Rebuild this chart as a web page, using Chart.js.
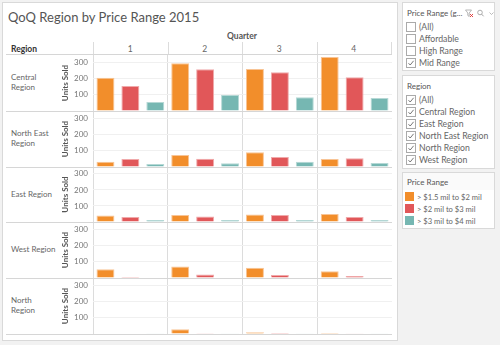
<!DOCTYPE html>
<html>
<head>
<meta charset="utf-8">
<script src="https://cdn.jsdelivr.net/npm/chart.js@4"></script>
<style>
  html, body { margin: 0; padding: 0; }
  body { width: 500px; height: 345px; background: #f2f2f2; position: relative; overflow: hidden;
         font-family: Lato, "Noto Sans", sans-serif; color: #555; }
  .abs { position: absolute; white-space: nowrap; }
  #sheet { position: absolute; left: 2px; top: 2px; width: 394px; height: 337px; background: #fff;
           border: 1px solid #d9d9d9; }
  .hline { position: absolute; height: 1px; background: #d6d6d6; }
  .vline { position: absolute; width: 1px; background: #dcdcdc; }
  .rowlabel { position: absolute; left: 11px; font-size: 8px; line-height: 10px; color: #666; }
  .card { position: absolute; left: 402px; width: 93px; background: #fff; border: 1px solid #d9d9d9; box-sizing: border-box; }
  .card .head { position: absolute; left: 4px; font-size: 8px; color: #555; white-space: nowrap; }
  .item { position: absolute; left: 3px; height: 10px; font-size: 8.7px; color: #666; white-space: nowrap; line-height: 10px; }
  .box { position: absolute; left: 0; top: 0; width: 8px; height: 8px; border: 1px solid #aaa; background: #fff; }
  .item span { position: absolute; left: 13px; top: 0; }
  .sw { position: absolute; left: 0; top: 0; width: 9px; height: 9px; }
  canvas { position: absolute; }
</style>
</head>
<body>
<div id="sheet"></div>
<div class="abs" style="left:8px; top:7px; font-size:13px; color:#555; line-height:20px;">QoQ Region by Price Range 2015</div>
<div class="abs" style="left:0; width:484px; text-align:center; top:31px; font-size:8.5px; font-weight:700; color:#555; line-height:10px;">Quarter</div>
<div class="abs" style="left:11px; top:44px; font-size:8.5px; font-weight:700; color:#333; line-height:10px;">Region</div>
<div id="layer"></div>

<script>
// Quarters across the top, regions down the side, one bar per price range
const quarters = ['1', '2', '3', '4'];
const regions = ['Central Region', 'North East Region', 'East Region', 'West Region', 'North Region'];
const regionLines = [['Central', 'Region'], ['North East', 'Region'], ['East Region'], ['West Region'], ['North', 'Region']];
const priceRanges = ['> $1.5 mil to $2 mil', '> $2 mil to $3 mil', '> $3 mil to $4 mil'];
const priceColors = ['#f28e2b', '#e15759', '#76b7b2'];
const priceEdges = ['#f8c495', '#f0a9aa', '#b5d8d5'];
const yTicks = [100, 200, 300];

// Units sold per quarter, one array per price range
const centralUnits   = [[204, 292, 257, 331], [153, 255, 237, 206], [55, 98, 84, 80]];
const northEastUnits = [[32, 73, 90, 49], [49, 51, 61, 53], [18, 23, 32, 24]];
const eastUnits      = [[40, 44, 46, 50], [31, 34, 43, 31], [13, 12, 12, 13]];
const westUnits      = [[53, 70, 63, 41], [6, 22, 19, 13], [3, 3, 3, 0]];
const northUnits     = [[3, 29, 10, 6], [3, 5, 6, 4], [2, 2, 2, 2]];
const unitsByRegion = [centralUnits, northEastUnits, eastUnits, westUnits, northUnits];

const filterOptions = ['(All)', 'Affordable', 'High Range', 'Mid Range'];
const filterChecked = [false, false, false, true];
const regionOptions = ['(All)', 'Central Region', 'East Region', 'North East Region', 'North Region', 'West Region'];

// Layout of the crosstab
const rowTops = [55, 111, 167, 222, 278, 334];
const plotLeft = 93, plotRight = 391;
const axisLeft = 56;

const layer = document.getElementById('layer');
function el(cls, css, html) {
  const d = document.createElement('div');
  d.className = cls;
  d.style.cssText = css;
  if (html !== undefined) d.innerHTML = html;
  layer.appendChild(d);
  return d;
}

// Column headers and header separators
const colW = (plotRight - plotLeft) / quarters.length;
quarters.forEach((q, i) => {
  el('abs', `left:${plotLeft + colW * i}px; width:${colW}px; top:44px; text-align:center; font-size:8.5px; color:#666; line-height:10px;`, q);
});
for (let i = 0; i <= quarters.length; i++) {
  el('vline', `left:${Math.round(plotLeft + colW * i)}px; top:42px; height:13px;`);
}
el('hline', `left:6px; width:${plotRight - 5}px; top:54px;`);

// Row labels and row separators
regions.forEach((r, i) => {
  const mid = (rowTops[i] + rowTops[i + 1]) / 2;
  const lines = regionLines[i];
  el('rowlabel', `top:${mid - lines.length * 5 - 1}px;`, lines.join('<br>'));
  el('hline', `left:6px; width:${plotRight - 5}px; top:${rowTops[i + 1]}px; z-index:2;`);
});

// One bar chart per region row
const checkSvg = '<svg width="8" height="8" viewBox="0 0 8 8" style="position:absolute;left:0;top:0"><polyline points="1.5,4.2 3.2,6 6.6,1.8" fill="none" stroke="#555" stroke-width="0.8"/></svg>';

regions.forEach((r, i) => {
  const cv = document.createElement('canvas');
  const h = rowTops[i + 1] - rowTops[i];
  cv.width = plotRight + 1 - axisLeft;
  cv.height = h;
  cv.style.left = axisLeft + 'px';
  cv.style.top = rowTops[i] + 'px';
  cv.style.width = cv.width + 'px';
  cv.style.height = h + 'px';
  layer.appendChild(cv);

  new Chart(cv, {
    type: 'bar',
    data: {
      labels: quarters,
      datasets: priceRanges.map((p, k) => ({
        label: p,
        data: unitsByRegion[i][k],
        backgroundColor: priceColors[k],
        borderColor: priceEdges[k],
        borderWidth: 1,
        categoryPercentage: 1,
        barPercentage: 0.72
      }))
    },
    options: {
      responsive: false,
      animation: false,
      events: [],
      devicePixelRatio: 1,
      layout: { autoPadding: false, padding: 0 },
      plugins: { legend: { display: false }, tooltip: { enabled: false } },
      scales: {
        x: {
          grid: { offset: true, drawTicks: false, color: '#dcdcdc' },
          ticks: { display: false },
          border: { display: false },
          afterFit(s) { s.height = 0; s.paddingLeft = 0; s.paddingRight = 0; }
        },
        y: {
          min: 0, max: 343,
          afterBuildTicks(s) { s.ticks = [0].concat(yTicks).map(v => ({ value: v })); },
          ticks: {
            padding: 5,
            color: '#777',
            font: { family: 'Lato', size: 8 },
            callback: v => (v === 0 ? '' : v)
          },
          grid: { drawTicks: false, color: ctx => (ctx.tick && ctx.tick.value === 0 ? 'rgba(0,0,0,0)' : '#f0f0f0') },
          border: { display: false },
          title: {
            display: true, text: 'Units Sold', color: '#555',
            font: { family: 'Lato', size: 8, weight: 'bold' },
            padding: { top: 5, bottom: 0 }
          },
          afterFit(s) { s.width = plotLeft - axisLeft; s.paddingTop = 0; s.paddingBottom = 0; }
        }
      }
    }
  });
});

// Filter card: price range
const c1 = el('card', 'top:2px; height:69px;');
c1.innerHTML = '<div class="head" style="top:5px;">Price Range (g...</div>' +
  '<svg width="30" height="9" viewBox="0 0 30 9" style="position:absolute; left:62px; top:6px;">' +
  '<path d="M0.5,1 L6.5,1 L4.2,4 L4.2,7.5 L2.8,6.5 L2.8,4 Z" fill="none" stroke="#999" stroke-width="0.7"/>' +
  '<path d="M5,5 L8,8 M8,5 L5,8" stroke="#d33" stroke-width="0.9"/>' +
  '<circle cx="15" cy="3.5" r="2.3" fill="none" stroke="#999" stroke-width="0.8"/>' +
  '<path d="M16.7,5.2 L18.6,7.3" stroke="#999" stroke-width="0.9"/>' +
  '<path d="M24.5,3.5 L26.5,5.5 L28.5,3.5" fill="none" stroke="#aaa" stroke-width="0.8"/></svg>';
filterOptions.forEach((o, i) => {
  const it = document.createElement('div');
  it.className = 'item';
  it.style.top = (19 + i * 12) + 'px';
  it.innerHTML = '<div class="box">' + (filterChecked[i] ? checkSvg : '') + '</div><span>' + o + '</span>';
  c1.appendChild(it);
});

// Filter card: region
const c2 = el('card', 'top:75px; height:94px;');
c2.innerHTML = '<div class="head" style="top:5px;">Region</div>';
regionOptions.forEach((o, i) => {
  const it = document.createElement('div');
  it.className = 'item';
  it.style.top = (19 + i * 12) + 'px';
  it.innerHTML = '<div class="box">' + checkSvg + '</div><span>' + o + '</span>';
  c2.appendChild(it);
});

// Colour legend
const c3 = el('card', 'top:172px; height:57px;');
c3.innerHTML = '<div style="position:absolute;left:0;top:0;right:0;height:17px;background:#fafafa;"></div>' +
  '<div class="head" style="top:4px;">Price Range</div>';
priceRanges.forEach((p, k) => {
  const it = document.createElement('div');
  it.className = 'item';
  it.style.top = (19 + k * 12) + 'px';
  it.style.left = '2px';
  it.style.fontSize = '7.6px';
  it.innerHTML = '<div class="sw" style="background:' + priceColors[k] + '"></div><span style="left:12px">' + p + '</span>';
  c3.appendChild(it);
});
</script>
</body>
</html>
